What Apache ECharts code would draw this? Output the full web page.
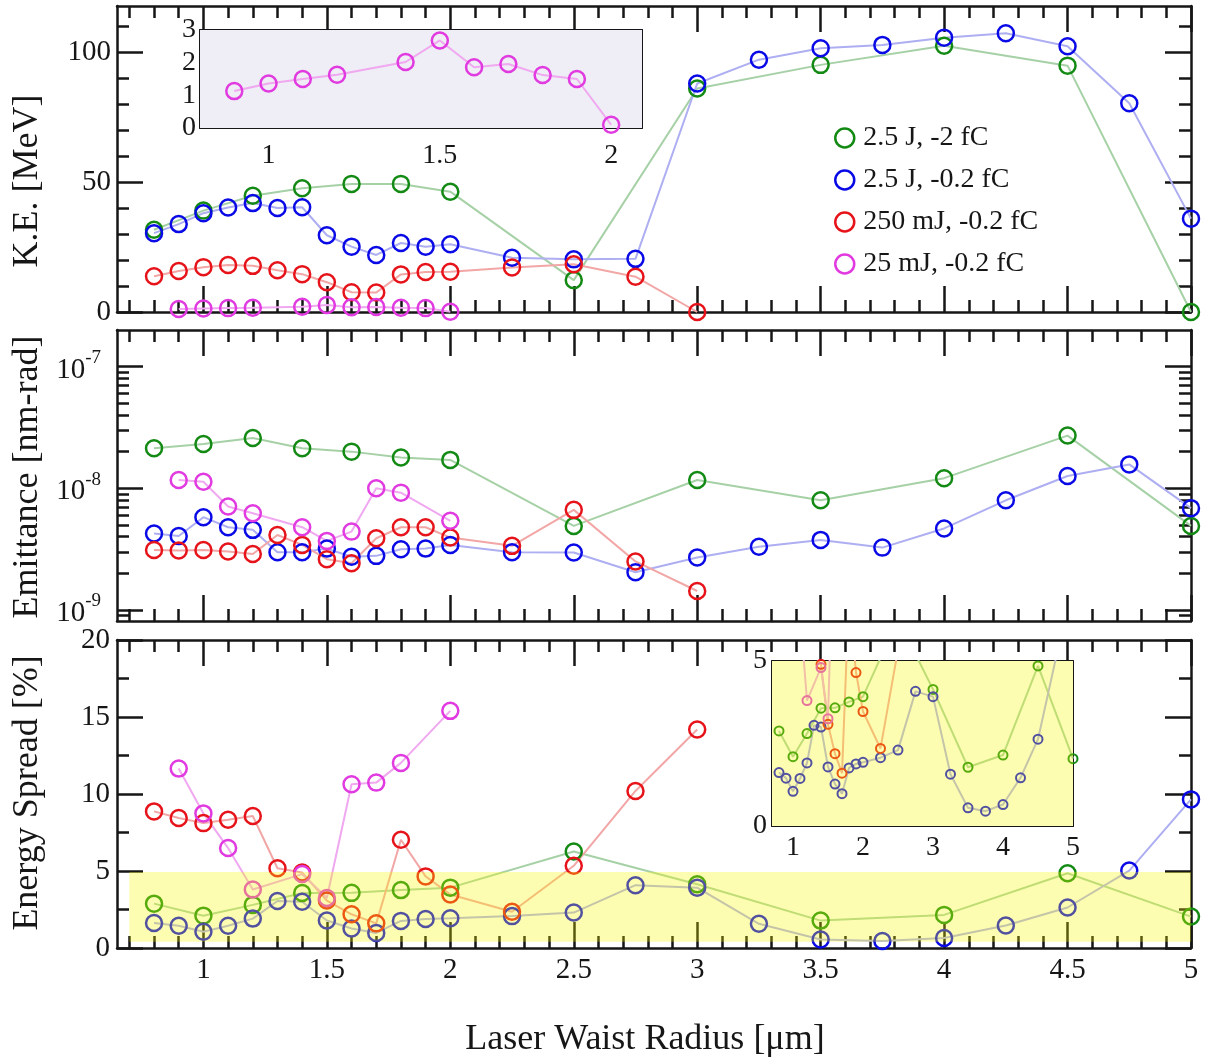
<!DOCTYPE html>
<html>
<head>
<meta charset="utf-8">
<script src="https://cdn.jsdelivr.net/npm/echarts@6/dist/echarts.min.js"></script>
<style>
  html, body { margin: 0; padding: 0; background: #ffffff; }
  #chart { width: 1207px; height: 1064px; }
</style>
</head>
<body>
<div id="chart"></div>
<script>
// ---- Series names (legend) ----
const seriesNames = ['2.5 J, -2 fC', '2.5 J, -0.2 fC', '250 mJ, -0.2 fC', '25 mJ, -0.2 fC'];

// ---- 2.5 J, -2 fC ----
const radiusG = [0.8, 1.0, 1.2, 1.4, 1.6, 1.8, 2.0, 2.5, 3.0, 3.5, 4.0, 4.5, 5.0];
const keG     = [31.7, 39.1, 44.8, 47.7, 49.4, 49.4, 46.4, 12.3, 86.2, 95.3, 102.7, 95.0, 0];
const emitG   = [2.13e-8, 2.31e-8, 2.59e-8, 2.13e-8, 2.0e-8, 1.79e-8, 1.71e-8, 4.9e-9, 1.17e-8, 7.96e-9, 1.21e-8, 2.71e-8, 4.9e-9];
const spreadG = [2.88, 2.1, 2.8, 3.57, 3.58, 3.76, 3.92, 6.27, 4.14, 1.78, 2.15, 4.85, 2.04];

// ---- 2.5 J, -0.2 fC ----
const radiusB = [0.8, 0.9, 1.0, 1.1, 1.2, 1.3, 1.4, 1.5, 1.6, 1.7, 1.8, 1.9, 2.0, 2.25, 2.5, 2.75, 3.0, 3.25, 3.5, 3.75, 4.0, 4.25, 4.5, 4.75, 5.0];
const keB     = [30.4, 33.9, 38.1, 40.3, 42.0, 40.1, 40.4, 29.6, 25.2, 22.0, 26.6, 25.2, 26.1, 20.9, 20.3, 20.5, 88.1, 97.3, 101.7, 103.0, 105.8, 107.5, 102.5, 80.5, 36.0];
const emitB   = [4.24e-9, 4.05e-9, 5.78e-9, 4.78e-9, 4.55e-9, 2.98e-9, 2.98e-9, 3.19e-9, 2.73e-9, 2.78e-9, 3.15e-9, 3.19e-9, 3.42e-9, 2.98e-9, 2.96e-9, 2.04e-9, 2.7e-9, 3.3e-9, 3.76e-9, 3.25e-9, 4.67e-9, 7.96e-9, 1.26e-8, 1.57e-8, 6.86e-9];
const spreadB = [1.62, 1.45, 1.05, 1.44, 1.91, 3.05, 3.0, 1.79, 1.27, 0.98, 1.76, 1.88, 1.93, 2.07, 2.3, 4.08, 3.92, 1.57, 0.55, 0.45, 0.65, 1.46, 2.63, 5.03, 9.65];

// ---- 250 mJ, -0.2 fC ----
const radiusR = [0.8, 0.9, 1.0, 1.1, 1.2, 1.3, 1.4, 1.5, 1.6, 1.7, 1.8, 1.9, 2.0, 2.25, 2.5, 2.75, 3.0];
const keR     = [13.8, 15.8, 17.3, 18.1, 17.8, 16.1, 14.6, 11.5, 7.6, 7.5, 14.5, 15.4, 15.5, 17.2, 18.4, 13.6, 0];
const emitR   = [3.11e-9, 3.08e-9, 3.11e-9, 3.02e-9, 2.88e-9, 4.13e-9, 3.42e-9, 2.61e-9, 2.42e-9, 3.88e-9, 4.78e-9, 4.78e-9, 3.93e-9, 3.36e-9, 6.64e-9, 2.5e-9, 1.43e-9];
const spreadR = [8.87, 8.44, 8.11, 8.33, 8.57, 5.18, 4.9, 3.08, 2.19, 1.6, 7.03, 4.65, 3.47, 2.35, 5.34, 10.2, 14.19];

// ---- 25 mJ, -0.2 fC ----
const radiusM = [0.9, 1.0, 1.1, 1.2, 1.4, 1.5, 1.6, 1.7, 1.8, 1.9, 2.0];
const keM     = [1.13, 1.36, 1.5, 1.63, 2.02, 2.68, 1.86, 1.96, 1.62, 1.5, 0.1];
const emitM   = [1.17e-8, 1.13e-8, 7.07e-9, 6.23e-9, 4.78e-9, 3.69e-9, 4.4e-9, 1.0e-8, 9.2e-9, null, 5.4e-9];
const spreadM = [11.65, 8.74, 6.49, 3.8, 4.8, 3.25, 10.63, 10.74, 12.02, null, 15.4];

// ---- Tick values ----
function steps(a, b, d) {
  const out = [];
  const n = Math.round((b - a) / d);
  for (let i = 0; i <= n; i++) out.push(+(a + i * d).toFixed(4));
  return out;
}
function without(list, remove) {
  return list.filter(v => !remove.some(r => Math.abs(r - v) < 1e-9));
}
const radiusMajorTicks = [1, 1.5, 2, 2.5, 3, 3.5, 4, 4.5, 5];
const radiusMinorTicks = without(steps(0.7, 4.9, 0.1), radiusMajorTicks);
const keMajorTicks = [0, 50, 100];
const keMinorTicks = [10, 20, 30, 40, 60, 70, 80, 90, 110];
const emitMajorTicks = [1e-9, 1e-8, 1e-7];
const emitMinorTicks = [9e-10, 2e-9, 3e-9, 4e-9, 5e-9, 6e-9, 7e-9, 8e-9, 9e-9,
                        2e-8, 3e-8, 4e-8, 5e-8, 6e-8, 7e-8, 8e-8, 9e-8];
const spreadMajorTicks = [0, 5, 10, 15, 20];
const spreadMinorTicks = [2.5, 7.5, 12.5, 17.5];
const insetKeXMajor = [1, 1.5, 2];
const insetKeXMinor = without(steps(0.85, 2.05, 0.05), insetKeXMajor);
const insetKeYMajor = [0, 1, 2, 3];
const insetKeYMinor = [0.5, 1.5, 2.5];
const insetSpXMajor = [1, 2, 3, 4, 5];
const insetSpXMinor = without(steps(0.8, 4.9, 0.1), insetSpXMajor);
const insetSpYTicks = steps(0.5, 4.5, 0.5);
const insetSpYLabels = [0, 5];

// ---- Styling ----
const SERIF = '"Liberation Serif", "Times New Roman", serif';
const INK = '#161616';
const MARK = ['#138a13', '#0a0ae6', '#e6141a', '#e03ae0'];
const LINE = ['#a6d1a6', '#aeaef2', '#f2a6a6', '#f0a8f0'];
const BAND = 'rgba(250,250,0,0.3)';

const xAxes = [];
const yAxes = [];

function labelStyle(values, margin, size) {
  return { show: true, customValues: values, margin: margin, fontFamily: SERIF, fontSize: size, color: INK };
}

// Builds a boxed frame (four sides, major + minor inward ticks) for one grid.
function frame(g, xr, yr, s) {
  const lw = s.lineWidth;
  const axLine = show => ({ show, onZero: false, lineStyle: { color: INK, width: lw } });
  const axTick = (vals, len) => ({ show: true, inside: true, length: len, customValues: vals,
                                    lineStyle: { color: INK, width: lw } });
  const base = (min, max, type) => ({ gridIndex: g, type: type, min: min, max: max,
                                      splitLine: { show: false }, axisLabel: { show: false },
                                      axisPointer: { show: false } });
  const yType = s.yType || 'value';
  const xi = xAxes.length;
  xAxes.push(Object.assign(base(xr[0], xr[1], 'value'), { position: 'bottom', axisLine: axLine(true),
    axisTick: axTick(s.xMajor, s.majLen), axisLabel: s.xLabel || { show: false } }));
  xAxes.push(Object.assign(base(xr[0], xr[1], 'value'), { position: 'bottom', axisLine: axLine(false),
    axisTick: axTick(s.xMinor, s.minLen) }));
  xAxes.push(Object.assign(base(xr[0], xr[1], 'value'), { position: 'top', axisLine: axLine(true),
    axisTick: axTick(s.xMajor, s.majLen) }));
  xAxes.push(Object.assign(base(xr[0], xr[1], 'value'), { position: 'top', axisLine: axLine(false),
    axisTick: axTick(s.xMinor, s.minLen) }));
  const yi = yAxes.length;
  yAxes.push(Object.assign(base(yr[0], yr[1], yType), { position: 'left', axisLine: axLine(true),
    axisTick: axTick(s.yMajor, s.yMajLen || s.majLen), axisLabel: s.yLabel || { show: false } }));
  yAxes.push(Object.assign(base(yr[0], yr[1], yType), { position: 'left', axisLine: axLine(false),
    axisTick: axTick(s.yMinor, s.yMinLen || s.minLen) }));
  yAxes.push(Object.assign(base(yr[0], yr[1], yType), { position: 'right', axisLine: axLine(true),
    axisTick: axTick(s.yMajor, s.yMajLen || s.majLen) }));
  yAxes.push(Object.assign(base(yr[0], yr[1], yType), { position: 'right', axisLine: axLine(false),
    axisTick: axTick(s.yMinor, s.yMinLen || s.minLen) }));
  return { x: xi, y: yi };
}

const RADIUS_RANGE = [0.65, 5];

const fKE = frame(0, RADIUS_RANGE, [0, 118], {
  lineWidth: 2.5, majLen: 26, minLen: 12,
  xMajor: radiusMajorTicks, xMinor: radiusMinorTicks,
  yMajor: keMajorTicks, yMinor: keMinorTicks,
  yLabel: labelStyle(keMajorTicks, 6, 29)
});
const fEmit = frame(1, RADIUS_RANGE, [8.1e-10, 2.0e-7], {
  lineWidth: 2.5, majLen: 26, minLen: 12, yType: 'log',
  xMajor: radiusMajorTicks, xMinor: radiusMinorTicks,
  yMajor: emitMajorTicks, yMinor: emitMinorTicks,
  yLabel: {
    show: true, customValues: emitMajorTicks, margin: 16,
    formatter: v => '{b|10}{s|' + Math.round(Math.log10(v)) + '}',
    rich: {
      b: { fontFamily: SERIF, fontSize: 29, color: INK, lineHeight: 36, verticalAlign: 'bottom' },
      s: { fontFamily: SERIF, fontSize: 19, color: INK, verticalAlign: 'top' }
    }
  }
});
const fSpread = frame(2, RADIUS_RANGE, [0, 20], {
  lineWidth: 2.5, majLen: 26, minLen: 12,
  xMajor: radiusMajorTicks, xMinor: radiusMinorTicks,
  yMajor: spreadMajorTicks, yMinor: spreadMinorTicks,
  xLabel: labelStyle(radiusMajorTicks, 8, 29),
  yLabel: labelStyle(spreadMajorTicks, 7, 29)
});
const fInsetKE = frame(3, [0.8, 2.09], [0, 3], {
  lineWidth: 2, majLen: 9, minLen: 5,
  xMajor: insetKeXMajor, xMinor: insetKeXMinor,
  yMajor: insetKeYMajor, yMinor: insetKeYMinor,
  xLabel: labelStyle(insetKeXMajor, 14, 28),
  yLabel: labelStyle(insetKeYMajor, 4, 28)
});
const fInsetSpread = frame(4, [0.7, 5], [0, 5], {
  lineWidth: 2, majLen: 7, minLen: 4, yMajLen: 5, yMinLen: 5,
  xMajor: insetSpXMajor, xMinor: insetSpXMinor,
  yMajor: insetSpYLabels, yMinor: insetSpYTicks,
  xLabel: labelStyle(insetSpXMajor, 8, 28),
  yLabel: labelStyle(insetSpYLabels, 5, 28)
});

function pairs(xs, ys) {
  return xs.map((x, i) => [x, ys[i]]).filter(p => p[1] !== null && p[1] !== undefined);
}

function line(k, f, xs, ys, size, border) {
  return {
    type: 'line', name: seriesNames[k],
    xAxisIndex: f.x, yAxisIndex: f.y,
    data: pairs(xs, ys),
    symbol: 'circle', symbolSize: size, showSymbol: true,
    lineStyle: { color: LINE[k], width: 2 },
    itemStyle: { color: 'rgba(0,0,0,0)', borderColor: MARK[k], borderWidth: border },
    emphasis: { disabled: true },
    clip: true, z: 3
  };
}

const radii = [radiusG, radiusB, radiusR, radiusM];
const ke = [keG, keB, keR, keM];
const emit = [emitG, emitB, emitR, emitM];
const spread = [spreadG, spreadB, spreadR, spreadM];

const series = [];
for (let k = 0; k < 4; k++) series.push(line(k, fKE, radii[k], ke[k], 16, 2.5));
for (let k = 0; k < 4; k++) series.push(line(k, fEmit, radii[k], emit[k], 16, 2.5));
for (let k = 0; k < 4; k++) series.push(line(k, fSpread, radii[k], spread[k], 16, 2.5));
series.push(line(3, fInsetKE, radiusM, keM, 16, 2.5));
for (let k = 0; k < 4; k++) series.push(line(k, fInsetSpread, radii[k], spread[k], 9, 2));

// Translucent yellow highlight band, laid over the marks of the energy-spread panel
series.push({
  type: 'line', name: 'band', xAxisIndex: fSpread.x, yAxisIndex: fSpread.y, data: [], z: 10,
  markArea: { silent: true, z: 10, itemStyle: { color: BAND },
              data: [[{ coord: [0.7, 0.4] }, { coord: [5, 4.93] }]] }
});
series.push({
  type: 'line', name: 'band-inset', xAxisIndex: fInsetSpread.x, yAxisIndex: fInsetSpread.y, data: [], z: 10,
  markArea: { silent: true, z: 10, itemStyle: { color: BAND },
              data: [[{ coord: [0.7, 0] }, { coord: [5, 5] }]] }
});

const titleStyle = { fontFamily: SERIF, fontSize: 36, fill: INK, align: 'center', verticalAlign: 'middle' };

const option = {
  animation: false,
  backgroundColor: '#ffffff',
  grid: [
    { left: 117, top: 6, width: 1074, height: 306 },
    { left: 117, top: 330, width: 1074, height: 291 },
    { left: 117, top: 640, width: 1074, height: 308 },
    { left: 200, top: 30, width: 442, height: 98, show: true, backgroundColor: '#efedf5', borderWidth: 0, z: 1 },
    { left: 772, top: 661, width: 301, height: 165, show: true, backgroundColor: '#ffffff', borderWidth: 0, z: 1 }
  ],
  xAxis: xAxes,
  yAxis: yAxes,
  legend: {
    data: seriesNames.map((n, k) => ({
      name: n,
      itemStyle: { color: 'rgba(0,0,0,0)', borderColor: MARK[k], borderWidth: 2.5 }
    })),
    orient: 'vertical', left: 829, top: 119,
    icon: 'circle', itemWidth: 19, itemHeight: 19, itemGap: 14,
    selectedMode: false,
    textStyle: { fontFamily: SERIF, fontSize: 28, color: INK, padding: [0, 0, 0, 4] }
  },
  graphic: [
    { type: 'text', x: 28, y: 181, rotation: Math.PI / 2, style: Object.assign({ text: 'K.E. [MeV]' }, titleStyle) },
    { type: 'text', x: 28, y: 477, rotation: Math.PI / 2, style: Object.assign({ text: 'Emittance [nm-rad]' }, titleStyle) },
    { type: 'text', x: 28, y: 793, rotation: Math.PI / 2, style: Object.assign({ text: 'Energy Spread [%]' }, titleStyle) },
    { type: 'text', x: 645, y: 1040, style: Object.assign({ text: 'Laser Waist Radius [μm]' }, titleStyle) }
  ],
  series: series
};

const chart = echarts.init(document.getElementById('chart'), null, { renderer: 'canvas' });
chart.setOption(option);
</script>
</body>
</html>
